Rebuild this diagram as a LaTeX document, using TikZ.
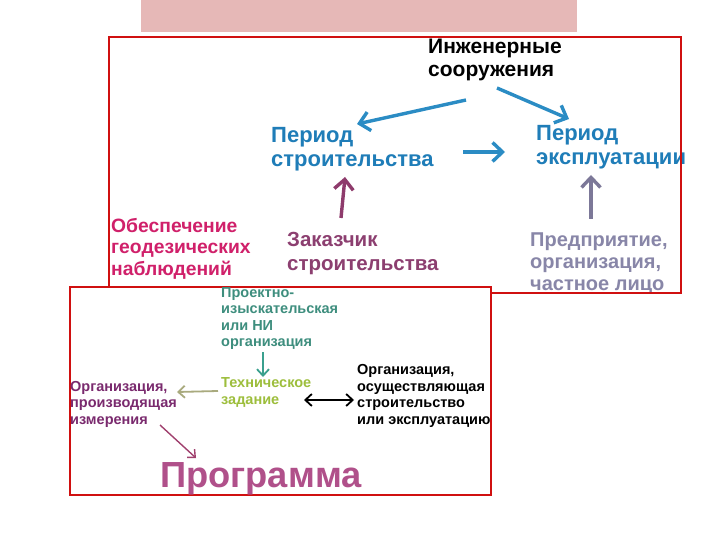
\documentclass[tikz,border=0pt]{standalone}
\usepackage{fontspec}
\setmainfont{Liberation Sans}
\usetikzlibrary{arrows.meta}
\definecolor{frame}{HTML}{D01010}
\definecolor{pinkbar}{HTML}{E6B8B7}
\definecolor{bluetxt}{HTML}{1F7DB8}
\definecolor{bluearr}{HTML}{2B8CC4}
\definecolor{plumtxt}{HTML}{8C3F70}
\definecolor{plumarr}{HTML}{8E3B6C}
\definecolor{lavtxt}{HTML}{8886A8}
\definecolor{lavarr}{HTML}{7C7898}
\definecolor{crimtxt}{HTML}{D0206A}
\definecolor{tealtxt}{HTML}{3E8E7E}
\definecolor{tealarr}{HTML}{3AA08E}
\definecolor{limetxt}{HTML}{9DBE3C}
\definecolor{olivearr}{HTML}{A9AA7E}
\definecolor{purptxt}{HTML}{7A2A6E}
\definecolor{progtxt}{HTML}{B0508A}
\definecolor{progarr}{HTML}{A0406E}
\tikzset{
  lbl/.style={inner sep=0pt, anchor=base west, align=left, font=\bfseries},
  big/.style={lbl, font=\fontsize{22}{24}\selectfont\bfseries},
  mid/.style={lbl, font=\fontsize{20}{22}\selectfont\bfseries},
  small/.style={lbl, font=\fontsize{14.5}{16.5}\selectfont\bfseries},
  bigarr/.style={line width=3.4pt, -{Straight Barb[length=10pt,width=19pt]}},
  smallarr/.style={line width=1.8pt, -{Straight Barb[length=6.5pt,width=12pt]}},
  boxframe/.style={draw=frame, line width=2.5pt},
}
\begin{document}
\begin{tikzpicture}[x=1pt,y=-1pt]
\useasboundingbox (0,0) rectangle (720,540);
\fill[white] (0,0) rectangle (720,540);
\fill[pinkbar] (141,0) rectangle (577,32);

% upper panel texts (anchor = baseline of last line)
\node[lbl, font=\fontsize{21}{23}\selectfont\bfseries] (ing) at (428,77) {Инженерные\\сооружения};
\node[big, text=bluetxt] (pstr) at (271,167) {Период\\строительства};
\node[big, text=bluetxt] (pexp) at (536,165) {Период\\эксплуатации};
\node[lbl, font=\fontsize{20.5}{24}\selectfont\bfseries, text=plumtxt] (zak) at (287,270) {Заказчик\\строительства};
\node[mid, text=lavtxt] (pred) at (530,290) {Предприятие,\\организация,\\частное лицо};
\node[lbl, font=\fontsize{19.3}{21.5}\selectfont\bfseries, text=crimtxt] (obes) at (111,275) {Обеспечение\\геодезических\\наблюдений};

% upper frame and lower panel
\draw[boxframe] (109,37) rectangle (681,293);
\draw[boxframe, fill=white] (70,287) rectangle (491,495);

% lower panel texts
\node[small, text=tealtxt] (proj) at (221,346.5) {Проектно-\\изыскательская\\или НИ\\организация};
\node[small, text=limetxt] (tz) at (221,404) {Техническое\\задание};
\node[small, text=purptxt] (izm) at (70,424) {Организация,\\производящая\\измерения};
\node[small, text=black] (osu) at (357,424) {Организация,\\осуществляющая\\строительство\\или эксплуатацию};
\node[lbl, font=\fontsize{36.3}{40}\selectfont\bfseries, text=progtxt] (prog) at (160,487) {Программа};

% arrow end points
\coordinate (a1s) at (466,100); \coordinate (a1e) at (357,124);
\coordinate (a2s) at (497,88);  \coordinate (a2e) at (569,119);
\coordinate (a3s) at (463,152); \coordinate (a3e) at (505,152);
\coordinate (a4s) at (341,218); \coordinate (a4e) at (345,177);
\coordinate (a5s) at (591,219); \coordinate (a5e) at (591,175);
\coordinate (b1s) at (263,352); \coordinate (b1e) at (263,377);
\coordinate (b2s) at (218,391); \coordinate (b2e) at (177,392);
\coordinate (b3s) at (304,400); \coordinate (b3e) at (354,400);
\coordinate (b4s) at (160,425); \coordinate (b4e) at (196,458);

\draw[bigarr, bluearr] (a1s) -- (a1e);
\draw[bigarr, bluearr] (a2s) -- (a2e);
\draw[bigarr, bluearr] (a3s) -- (a3e);
\draw[bigarr, plumarr] (a4s) -- (a4e);
\draw[bigarr, lavarr] (a5s) -- (a5e);
\draw[smallarr, tealarr] (b1s) -- (b1e);
\draw[smallarr, olivearr] (b2s) -- (b2e);
\draw[line width=1.8pt, {Straight Barb[length=6.5pt,width=12pt]}-{Straight Barb[length=6.5pt,width=12pt]}] (b3s) -- (b3e);
\draw[line width=1.4pt, progarr, -{Straight Barb[length=6pt,width=11pt]}] (b4s) -- (b4e);
\end{tikzpicture}
\end{document}
